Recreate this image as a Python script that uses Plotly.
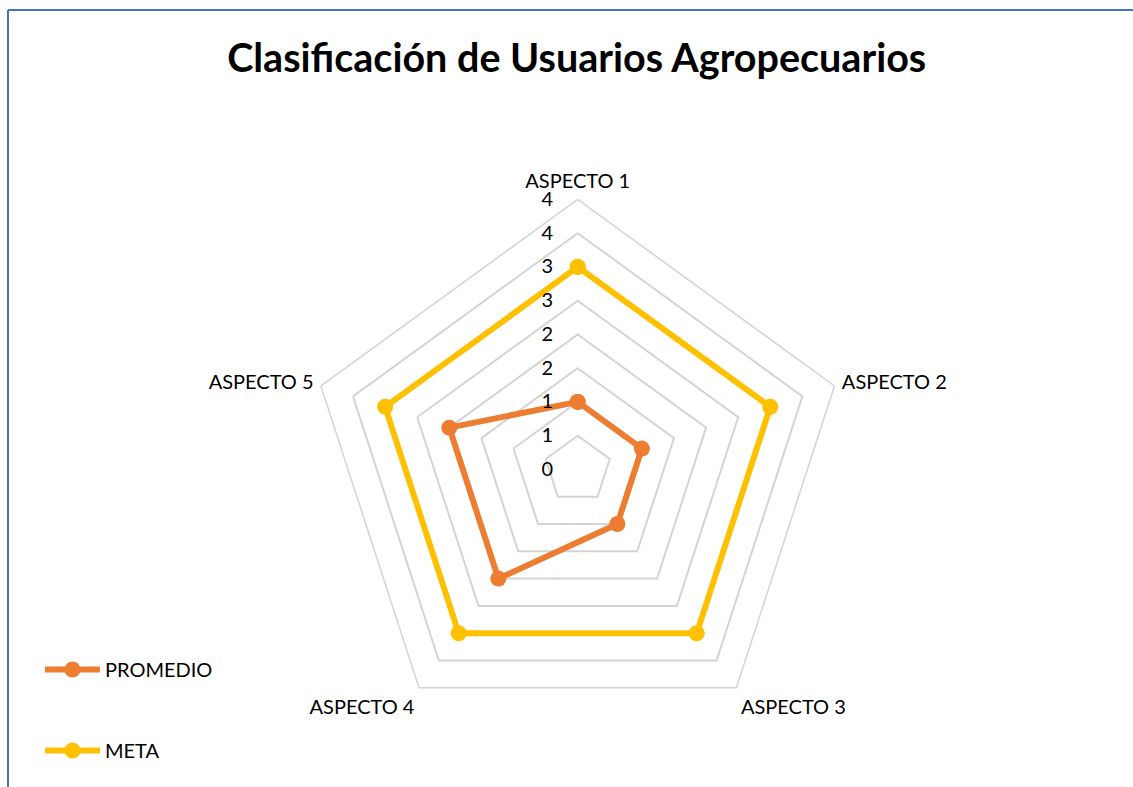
import plotly.graph_objects as go

# chart data
aspectos = ["ASPECTO 1", "ASPECTO 2", "ASPECTO 3", "ASPECTO 4", "ASPECTO 5"]
promedio = [1, 1, 1, 2, 2]
meta = [3, 3, 3, 3, 3]
radial_ticks = [0, 0.5, 1, 1.5, 2, 2.5, 3, 3.5, 4]
radial_labels = ["0", "1", "1", "2", "2", "3", "3", "4", "4"]

W, H = 1133, 787
cx, cy, R = 577.7, 469.4, 270

fig = go.Figure()

def closed(vals):
    return list(vals) + [vals[0]]

fig.add_trace(go.Scatterpolar(
    r=closed(promedio), theta=closed(aspectos), name="PROMEDIO",
    mode="lines+markers", legendgroup="a",
    line=dict(color="#ED7D31", width=6),
    marker=dict(size=16, color="#ED7D31"),
))
fig.add_trace(go.Scatterpolar(
    r=closed(meta), theta=closed(aspectos), name="META",
    mode="lines+markers", legendgroup="b",
    line=dict(color="#FFC000", width=6),
    marker=dict(size=16, color="#FFC000"),
))

font = "Lato, Open Sans, sans-serif"
grid = "#d4d4d4"

fig.update_layout(
    width=W, height=H,
    margin=dict(l=0, r=0, t=0, b=0),
    paper_bgcolor="white",
    plot_bgcolor="white",
    font=dict(family=font, size=20, color="black"),
    title=dict(text="<b>Clasificación de Usuarios Agropecuarios</b>",
               x=0.509, xanchor="center", y=1 - 58 / H, yanchor="middle",
               font=dict(family=font, size=39.5, color="black")),
    polar=dict(
        domain=dict(x=[(cx - R) / W, (cx + R) / W],
                    y=[(H - cy - R) / H, (H - cy + R) / H]),
        gridshape="linear",
        bgcolor="white",
        angularaxis=dict(rotation=90, direction="clockwise",
                         showgrid=False, ticks="outside", ticklen=3,
                         tickcolor="rgba(0,0,0,0)", linecolor=grid,
                         linewidth=1.5, tickfont=dict(size=20)),
        radialaxis=dict(range=[0, 4], tickvals=radial_ticks,
                        ticktext=radial_labels, showline=False,
                        ticks="outside", ticklen=17,
                        tickcolor="rgba(0,0,0,0)",
                        gridcolor=grid, gridwidth=1.5, angle=90,
                        tickangle=90, side="counterclockwise",
                        tickfont=dict(size=20)),
    ),
    showlegend=True,
    legend=dict(x=40 / W, y=1 - 650 / H, xanchor="left", yanchor="top",
                tracegroupgap=52, itemwidth=55,
                font=dict(family=font, size=20, color="black")),
    shapes=[
        dict(type="line", xref="paper", yref="paper", x0=8 / W, x1=1,
             y0=1 - 10 / H, y1=1 - 10 / H,
             line=dict(color="#4472C4", width=2)),
        dict(type="line", xref="paper", yref="paper", x0=8 / W, x1=8 / W,
             y0=0, y1=1 - 10 / H,
             line=dict(color="#4472C4", width=2)),
    ],
)

fig.write_html("out.html", config={"displayModeBar": False},
               post_script="document.body.style.margin='0';")
